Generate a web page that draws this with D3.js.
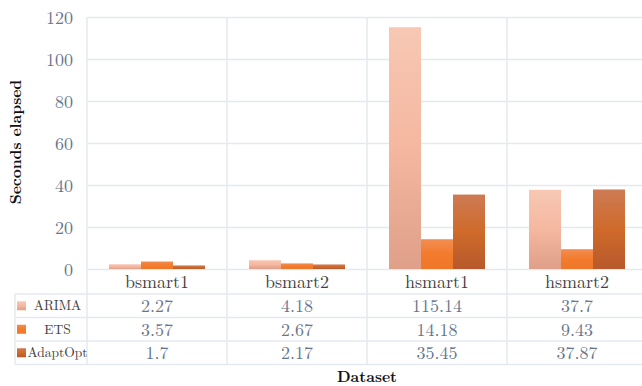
<!DOCTYPE html>
<html>
<head>
<meta charset="utf-8">
<script src="https://cdn.jsdelivr.net/npm/d3@7"></script>
<style>
  html, body { margin: 0; padding: 0; background: #fff; }
  svg { display: block; }
</style>
</head>
<body>
<svg id="chart" width="642" height="386"></svg>
<script>
// Data
const categories = ["bsmart1", "bsmart2", "hsmart1", "hsmart2"];
const seriesNames = ["ARIMA", "ETS", "AdaptOpt"];
const arima = [2.27, 4.18, 115.14, 37.7];
const ets = [3.57, 2.67, 14.18, 9.43];
const adaptOpt = [1.7, 2.17, 35.45, 37.87];
const yTicks = [0, 20, 40, 60, 80, 100, 120];

const seriesValues = [arima, ets, adaptOpt];

// Layout
const W = 642, H = 386;
const plot = { left: 87, right: 647, top: 17, bottom: 269 };
const rowH = [25, 23.5, 23.5, 23.5]; // category row, then one row per series
const tableLeft = 15;
const gridColor = "#e4e9ef";
const bodyFont = '"Latin Modern Roman", "Liberation Serif", serif';
const titleFont = '"Latin Modern Roman", "Liberation Serif", serif';

const svg = d3.select("#chart");

// Gradient fills for each series
const gradients = [
  { id: "g-arima", stops: [["0%", "#f7c8b4"], ["50%", "#f5b7a0"], ["100%", "#df9f88"]] },
  { id: "g-ets", stops: [["0%", "#f38d52"], ["50%", "#f27b2c"], ["100%", "#ee772a"]] },
  { id: "g-adapt", stops: [["0%", "#cd7b55"], ["50%", "#cf6a2a"], ["100%", "#b7592c"]] }
];
const defs = svg.append("defs");
gradients.forEach(g => {
  const lg = defs.append("linearGradient").attr("id", g.id)
    .attr("x1", 0).attr("y1", 0).attr("x2", 0).attr("y2", 1);
  g.stops.forEach(s => lg.append("stop").attr("offset", s[0]).attr("stop-color", s[1]));
});

// Scales
const x = d3.scaleBand().domain(categories).range([plot.left, plot.right]).padding(0);
const barW = 32;
const xInner = d3.scaleBand().domain(seriesNames)
  .range([(x.bandwidth() - 3 * barW) / 2, (x.bandwidth() + 3 * barW) / 2]).padding(0);
const y = d3.scaleLinear().domain([0, 120]).range([plot.bottom, plot.top]);

// Row boundaries of the data table under the plot
const rowY = [plot.bottom];
rowH.forEach(h => rowY.push(rowY[rowY.length - 1] + h));
const tableBottom = rowY[rowY.length - 1];

// Horizontal gridlines
const grid = svg.append("g")
  .call(d3.axisLeft(y).tickValues(yTicks).tickSize(-(W - plot.left)).tickFormat(""))
  .attr("transform", `translate(${plot.left},0)`);
grid.select(".domain").remove();
grid.selectAll("line").attr("stroke", gridColor).attr("stroke-width", 1.5);

// Vertical separators between categories (extend through the table)
const seps = [plot.left].concat(categories.slice(1).map(c => x(c)));
svg.append("g").selectAll("line").data(seps).join("line")
  .attr("x1", d => d).attr("x2", d => d)
  .attr("y1", plot.top).attr("y2", tableBottom)
  .attr("stroke", gridColor).attr("stroke-width", 1.5);

// Table horizontal lines (series rows span the legend column too)
svg.append("g").selectAll("line").data(rowY.slice(1)).join("line")
  .attr("x1", tableLeft).attr("x2", W)
  .attr("y1", d => d).attr("y2", d => d)
  .attr("stroke", gridColor).attr("stroke-width", 1.5);
svg.append("line")
  .attr("x1", tableLeft).attr("x2", tableLeft)
  .attr("y1", rowY[1]).attr("y2", tableBottom)
  .attr("stroke", gridColor).attr("stroke-width", 1.5);

// Bars
const groups = svg.append("g").selectAll("g").data(categories).join("g")
  .attr("transform", c => `translate(${x(c)},0)`);
groups.selectAll("rect")
  .data((c, i) => seriesNames.map((s, k) => ({ s, k, v: seriesValues[k][i] })))
  .join("rect")
  .attr("x", d => xInner(d.s))
  .attr("width", xInner.bandwidth())
  .attr("y", d => y(d.v))
  .attr("height", d => y(0) - y(d.v))
  .attr("fill", d => `url(#${gradients[d.k].id})`);

// Y axis tick labels
const yAxis = svg.append("g")
  .attr("transform", `translate(${plot.left - 14},0)`)
  .call(d3.axisLeft(y).tickValues(yTicks).tickSize(0).tickPadding(0));
yAxis.select(".domain").remove();
yAxis.selectAll("text")
  .style("font-family", bodyFont).style("font-size", "18px").attr("fill", "#67768e")
  .attr("dy", "0.35em");

// Category labels row
const xAxis = svg.append("g")
  .attr("transform", `translate(0,${rowY[0]})`)
  .call(d3.axisBottom(x).tickSize(0).tickPadding(0));
xAxis.select(".domain").remove();
xAxis.selectAll("text")
  .style("font-family", bodyFont).style("font-size", "18px").attr("fill", "#404040")
  .attr("y", rowH[0] / 2).attr("dy", "0.35em");

// Table value rows with legend keys
seriesNames.forEach((s, k) => {
  const cy = (rowY[k + 1] + rowY[k + 2]) / 2;
  svg.append("rect")
    .attr("x", 17).attr("y", cy - 4.5).attr("width", 9).attr("height", 9)
    .attr("fill", `url(#${gradients[k].id})`);
  svg.append("text")
    .attr("x", (plot.left + 26) / 2 + 1).attr("y", cy).attr("dy", "0.35em")
    .attr("text-anchor", "middle")
    .style("font-family", bodyFont).style("font-size", "13.5px").attr("fill", "#404040")
    .text(s);
  svg.append("g").selectAll("text").data(seriesValues[k]).join("text")
    .attr("x", (d, i) => x(categories[i]) + x.bandwidth() / 2)
    .attr("y", cy).attr("dy", "0.35em")
    .attr("text-anchor", "middle")
    .style("font-family", bodyFont).style("font-size", "18px").attr("fill", "#67768e")
    .text(d => d);
});

// Axis titles
svg.append("text")
  .attr("transform", `translate(21,142) rotate(-90)`)
  .attr("text-anchor", "middle")
  .style("font-family", titleFont).style("font-weight", "bold").style("font-size", "15.5px")
  .attr("fill", "#111")
  .text("Seconds elapsed");
svg.append("text")
  .attr("x", 367).attr("y", 382)
  .attr("text-anchor", "middle")
  .style("font-family", titleFont).style("font-weight", "bold").style("font-size", "15.5px")
  .attr("fill", "#111")
  .text("Dataset");
</script>
</body>
</html>
